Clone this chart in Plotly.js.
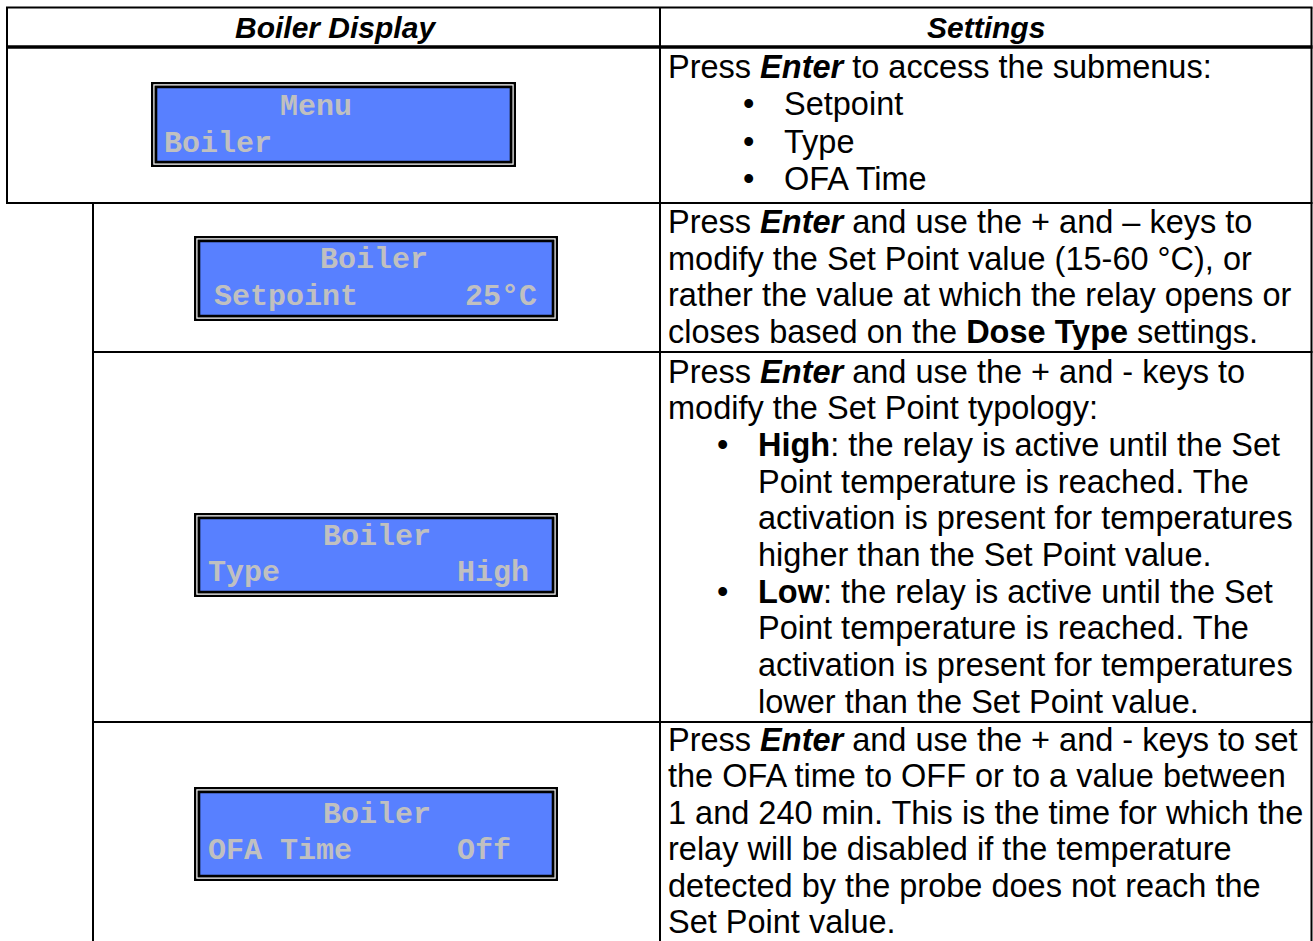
<!DOCTYPE html>
<html>
<head>
<meta charset="utf-8">
<script src="https://cdn.plot.ly/plotly-3.0.1.min.js"></script>
<style>html,body{margin:0;padding:0;background:#fff;}#chart{width:1313px;height:941px;}</style>
</head>
<body>
<div id="chart"></div>
<script>
// ---------- DATA (text content) ----------
const headers = ['<b><i>Boiler Display</i></b>', '<b><i>Settings</i></b>'];
const lcdTitles = ['Menu', 'Boiler', 'Boiler', 'Boiler'];
const lcdLeft = ['Boiler', 'Setpoint', 'Type', 'OFA Time'];
const lcdRight = ['', '25°C', 'High', 'Off'];

const row1Lines = [
  'Press <b><i>Enter</i></b> to access the submenus:',
  'Setpoint',
  'Type',
  'OFA Time'
];
const row1Bullets = [false, true, true, true];

const row2Lines = [
  'Press <b><i>Enter</i></b> and use the + and – keys to',
  'modify the Set Point value (15-60 °C), or',
  'rather the value at which the relay opens or',
  'closes based on the <b>Dose Type</b> settings.'
];
const row2Bullets = [false, false, false, false];

const row3Lines = [
  'Press <b><i>Enter</i></b> and use the + and - keys to',
  'modify the Set Point typology:',
  '<b>High</b>: the relay is active until the Set',
  'Point temperature is reached. The',
  'activation is present for temperatures',
  'higher than the Set Point value.',
  '<b>Low</b>: the relay is active until the Set',
  'Point temperature is reached. The',
  'activation is present for temperatures',
  'lower than the Set Point value.'
];
const row3Bullets = [false, false, true, false, false, false, true, false, false, false];
const row3Indented = [false, false, true, true, true, true, true, true, true, true];

const row4Lines = [
  'Press <b><i>Enter</i></b> and use the + and - keys to set',
  'the OFA time to OFF or to a value between',
  '1 and 240 min. This is the time for which the',
  'relay will be disabled if the temperature',
  'detected by the probe does not reach the',
  'Set Point value.'
];
const row4Bullets = [false, false, false, false, false, false];

// ---------- GEOMETRY / STYLE ----------
const W = 1313, H = 941;
const tableLeft = 7, tableRight = 1311.5, tableTop = 7.5;
const nestX = 93, divX = 660;
const headerLineY = 47, rowLineY = [203, 352, 722];
const lineW = 2;

const lcdBoxes = [
  {x0: 151, x1: 516, y0: 82, y1: 167},
  {x0: 194, x1: 558, y0: 236, y1: 321},
  {x0: 194, x1: 558, y0: 513, y1: 597},
  {x0: 194, x1: 558, y0: 787, y1: 881}
];
const lcdTitlePos = [{x: 280, y: 107}, {x: 320, y: 260}, {x: 323, y: 537}, {x: 323, y: 815}];
const lcdLeftPos = [{x: 164, y: 144}, {x: 214, y: 297}, {x: 208, y: 573}, {x: 208, y: 851}];
const lcdRightPos = [null, {x: 465, y: 297}, {x: 457, y: 573}, {x: 457, y: 851}];

const textX = 668;
const rowText = [
  {lines: row1Lines, bullets: row1Bullets, indent: null, y0: 67, pitch: 37.3, bulletX: 748, hangX: 784},
  {lines: row2Lines, bullets: row2Bullets, indent: null, y0: 222, pitch: 36.7, bulletX: 0, hangX: 0},
  {lines: row3Lines, bullets: row3Bullets, indent: row3Indented, y0: 371.5, pitch: 36.7, bulletX: 722, hangX: 758},
  {lines: row4Lines, bullets: row4Bullets, indent: null, y0: 740, pitch: 36.4, bulletX: 0, hangX: 0}
];

const SANS = 'Liberation Sans, Arial, sans-serif';
const MONO = 'Liberation Mono, Courier New, monospace';
const LCD_BLUE = '#5880FF';
const LCD_TEXT = '#C0C0C0';
const BODY_SIZE = 32.5;

// ---------- BUILD ----------
const shapes = [];
function hline(y, x0, x1, w) {
  shapes.push({type: 'line', xref: 'x', yref: 'y', x0: x0, x1: x1, y0: y, y1: y, line: {color: '#000', width: w || lineW}});
}
function vline(x, y0, y1, w) {
  shapes.push({type: 'line', xref: 'x', yref: 'y', x0: x, x1: x, y0: y0, y1: y1, line: {color: '#000', width: w || lineW}});
}
function rect(x0, x1, y0, y1, color) {
  shapes.push({type: 'rect', xref: 'x', yref: 'y', x0: x0, x1: x1, y0: y0, y1: y1, fillcolor: color, line: {width: 0}, layer: 'above'});
}

// table lines
hline(tableTop, tableLeft - 1, tableRight + 1);
hline(headerLineY, tableLeft - 1, tableRight + 1, 3.5);
hline(rowLineY[0], tableLeft - 1, tableRight + 1);
hline(rowLineY[1], nestX, tableRight + 1);
hline(rowLineY[2], nestX, tableRight + 1);
vline(tableLeft, tableTop, rowLineY[0]);
vline(tableRight, tableTop, H + 2);
vline(divX, tableTop, H + 2);
vline(nestX, rowLineY[0], H + 2);

// LCD boxes
lcdBoxes.forEach(function (b) {
  rect(b.x0, b.x1, b.y0, b.y1, '#000');
  rect(b.x0 + 2.3, b.x1 - 2.3, b.y0 + 2.3, b.y1 - 2.3, '#fff');
  rect(b.x0 + 3.5, b.x1 - 3.5, b.y0 + 3.5, b.y1 - 3.5, '#000');
  rect(b.x0 + 6.3, b.x1 - 6.3, b.y0 + 6.3, b.y1 - 6.3, LCD_BLUE);
});

const annotations = [];
function ann(x, y, text, font, anchor) {
  annotations.push({
    x: x, y: y, xref: 'x', yref: 'y', text: text, showarrow: false,
    xanchor: anchor || 'left', yanchor: 'middle', borderpad: 0, borderwidth: 0,
    font: font
  });
}

// headers
const headFont = {family: SANS, size: 30, color: '#000'};
ann((tableLeft + divX) / 2 + 2, 27, headers[0], headFont, 'center');
ann((divX + tableRight) / 2, 27, headers[1], headFont, 'center');

// LCD texts
const lcdFont = {family: MONO, size: 30, color: LCD_TEXT, weight: 'bold'};
for (let i = 0; i < lcdTitles.length; i++) {
  ann(lcdTitlePos[i].x, lcdTitlePos[i].y, lcdTitles[i], lcdFont);
  ann(lcdLeftPos[i].x, lcdLeftPos[i].y, lcdLeft[i], lcdFont);
  if (lcdRightPos[i] && lcdRight[i]) ann(lcdRightPos[i].x, lcdRightPos[i].y, lcdRight[i], lcdFont);
}

// settings texts
const bodyFont = {family: SANS, size: BODY_SIZE, color: '#000'};
rowText.forEach(function (r) {
  r.lines.forEach(function (t, i) {
    const y = r.y0 + i * r.pitch;
    const indented = r.bullets[i] || (r.indent && r.indent[i]);
    if (r.bullets[i]) ann(r.bulletX, y, '•', bodyFont, 'center');
    ann(indented ? r.hangX : textX, y, t, bodyFont);
  });
});

const layout = {
  width: W, height: H,
  margin: {l: 0, r: 0, t: 0, b: 0, pad: 0},
  paper_bgcolor: '#fff', plot_bgcolor: '#fff',
  showlegend: false,
  xaxis: {range: [0, W], visible: false, fixedrange: true},
  yaxis: {range: [H, 0], visible: false, fixedrange: true},
  shapes: shapes,
  annotations: annotations
};

Plotly.newPlot('chart', [], layout, {staticPlot: true, displayModeBar: false});
</script>
</body>
</html>
